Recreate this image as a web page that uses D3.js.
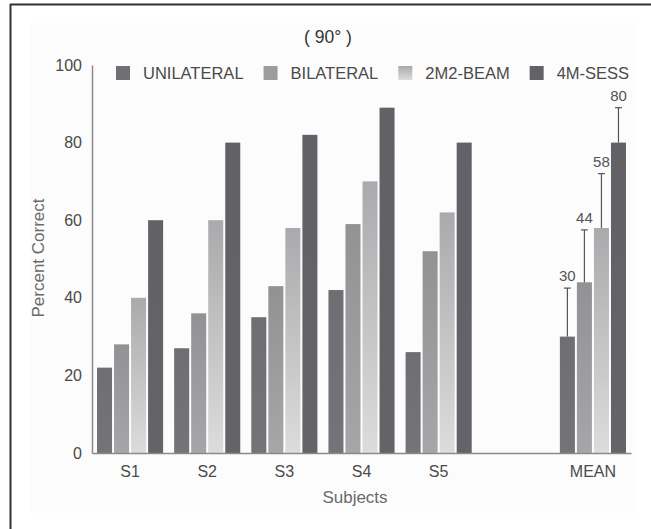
<!DOCTYPE html>
<html>
<head>
<meta charset="utf-8">
<script src="https://cdn.jsdelivr.net/npm/d3@7"></script>
<style>
  html, body { margin: 0; padding: 0; background: #fff; }
  svg { display: block; }
  text { font-family: "Liberation Sans", Arial, Helvetica, sans-serif; }
</style>
</head>
<body>
<svg id="chart" width="651" height="529"></svg>
<script>
// Percent correct per subject and condition (90° configuration)
const subjects = ["S1", "S2", "S3", "S4", "S5", " ", "MEAN"];
const seriesNames = ["UNILATERAL", "BILATERAL", "2M2-BEAM", "4M-SESS"];
const unilateral = [22, 27, 35, 42, 26];
const bilateral  = [28, 36, 43, 59, 52];
const beam2m2    = [40, 60, 58, 70, 62];
const sess4m     = [60, 80, 82, 89, 80];
const meanValues = [30, 44, 58, 80];
const meanErrors = [12.5, 13.5, 14, 9];
const yTicks = [0, 20, 40, 60, 80, 100];

const svg = d3.select("#chart");

// outer frame and soft panel
svg.append("rect").attr("x", 30).attr("y", 23).attr("width", 606).attr("height", 490).attr("fill", "#fcfcfc");
svg.append("line").attr("x1", 10).attr("x2", 651).attr("y1", 4.5).attr("y2", 4.5).attr("stroke", "#333").attr("stroke-width", 2);
svg.append("line").attr("x1", 10.5).attr("x2", 10.5).attr("y1", 4).attr("y2", 529).attr("stroke", "#333").attr("stroke-width", 2);

const defs = svg.append("defs");
const grad = (id, stops) => {
  const g = defs.append("linearGradient").attr("id", id)
    .attr("x1", 0).attr("y1", 0).attr("x2", 0).attr("y2", 1);
  stops.forEach(([o, c]) => g.append("stop").attr("offset", o).attr("stop-color", c));
};
grad("gUni", [[0, "#6f6f73"], [1, "#747478"]]);
grad("gBi", [[0, "#929294"], [1, "#a6a6a8"]]);
grad("gBeam", [[0, "#aaaaac"], [1, "#dcdcdc"]]);
grad("gSess", [[0, "#626266"], [1, "#646468"]]);
const fills = ["url(#gUni)", "url(#gBi)", "url(#gBeam)", "url(#gSess)"];
const legendFills = ["#707074", "#9c9c9e", "url(#gBeam)", "#636367"];

const y = d3.scaleLinear().domain([0, 100]).range([453, 65]);
const x = d3.scaleBand().domain(subjects).range([92, 631])
  .paddingInner(0.143).paddingOuter(0.065);
const xs = d3.scaleBand().domain(seriesNames).range([0, x.bandwidth()])
  .paddingInner(0.118).paddingOuter(0);

const seriesData = [unilateral, bilateral, beam2m2, sess4m];
const rows = [];
seriesNames.forEach((s, i) => {
  seriesData[i].forEach((v, j) => rows.push({ subject: subjects[j], series: s, si: i, value: v }));
  rows.push({ subject: "MEAN", series: s, si: i, value: meanValues[i], err: meanErrors[i] });
});

// bars
svg.append("g").selectAll("rect").data(rows).join("rect")
  .attr("x", d => x(d.subject) + xs(d.series))
  .attr("y", d => y(d.value))
  .attr("width", xs.bandwidth())
  .attr("height", d => y(0) - y(d.value))
  .attr("fill", d => fills[d.si]);

// error bars and value labels for the means
const means = rows.filter(d => d.err !== undefined);
const eg = svg.append("g");
means.forEach(d => {
  const cx = x(d.subject) + xs(d.series) + xs.bandwidth() / 2;
  const top = y(d.value + d.err);
  eg.append("line").attr("x1", cx).attr("x2", cx).attr("y1", y(d.value)).attr("y2", top)
    .attr("stroke", "#555").attr("stroke-width", 1.2);
  eg.append("line").attr("x1", cx - 3.5).attr("x2", cx + 3.5).attr("y1", top).attr("y2", top)
    .attr("stroke", "#555").attr("stroke-width", 1.2);
  eg.append("text").attr("x", cx).attr("y", top - 7).attr("text-anchor", "middle")
    .attr("font-size", 15).attr("fill", "#555").text(d.value);
});

// axes
const yAxis = svg.append("g").attr("transform", "translate(92,0)")
  .call(d3.axisLeft(y).tickValues(yTicks).tickSize(0).tickPadding(10));
const xAxis = svg.append("g").attr("transform", `translate(0,${y(0)})`)
  .call(d3.axisBottom(x).tickSize(0).tickPadding(13));
[yAxis, xAxis].forEach(a => {
  a.select(".domain").attr("stroke", "#8a8a8a").attr("stroke-width", 1.5);
  a.selectAll("text").attr("font-size", 16).attr("fill", "#4a4a4a")
    .attr("font-family", "'Liberation Sans', Arial, sans-serif");
});

// titles
svg.append("text").attr("x", 328).attr("y", 43).attr("text-anchor", "middle")
  .attr("font-size", 17.5).attr("fill", "#333").text("( 90° )");
svg.append("text").attr("x", 355).attr("y", 503).attr("text-anchor", "middle")
  .attr("font-size", 17).attr("fill", "#6a6a6a").text("Subjects");
svg.append("text").attr("transform", "translate(44,258) rotate(-90)").attr("text-anchor", "middle")
  .attr("font-size", 17).attr("fill", "#6a6a6a").text("Percent Correct");

// legend
const legend = svg.append("g").attr("transform", "translate(116,73)");
let lx = 0;
seriesNames.forEach((s, i) => {
  const g = legend.append("g").attr("transform", `translate(${lx},0)`);
  g.append("rect").attr("x", 0).attr("y", -7).attr("width", 14).attr("height", 14).attr("fill", legendFills[i]);
  const t = g.append("text").attr("x", 27).attr("y", 6).attr("font-size", 16.5).attr("fill", "#4a4a4a").text(s);
  lx += 27 + t.node().getComputedTextLength() + 20;
});
</script>
</body>
</html>
